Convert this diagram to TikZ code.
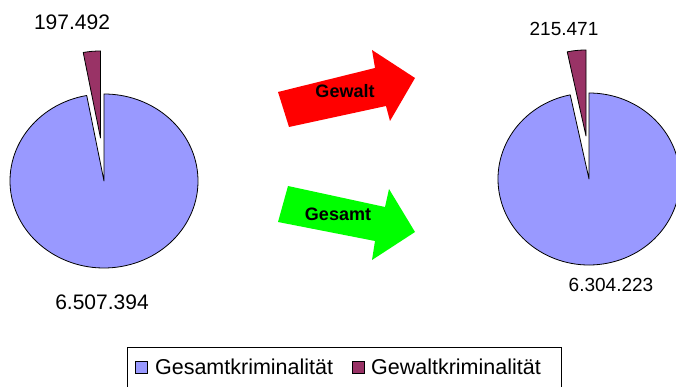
\documentclass[tikz,border=0pt]{standalone}
\usepackage{fontspec}
\setmainfont{Liberation Sans}
\usepackage{xcolor}
\usetikzlibrary{positioning}

\definecolor{gesamtblue}{HTML}{9999FF}
\definecolor{gewaltpurple}{HTML}{993366}

\begin{document}
\begin{tikzpicture}[
    x=1pt, y=1pt,
    slice/.style={draw=black, line width=0.8pt, line join=round},
    value/.style={font=\fontsize{21}{24}\selectfont, inner sep=0pt},
    smallvalue/.style={font=\fontsize{19}{22}\selectfont, inner sep=0pt},
    arrowlabel/.style={font=\bfseries\fontsize{18}{22}\selectfont, inner sep=0pt},
    legendkey/.style={draw=black, fill=#1, minimum size=12pt, inner sep=0pt, line width=0.8pt},
    legendtext/.style={font=\fontsize{21.5}{24}\selectfont, inner sep=0pt, anchor=west}
]
\clip (0,0) rectangle (676,387);

% Left pie
\coordinate (oldcenter) at (104,206);
\filldraw[slice, fill=gesamtblue] (oldcenter) -- ++(100.6:94 and 87)
    arc[start angle=100.6, end angle=450, x radius=94, y radius=87] -- cycle;
\filldraw[slice, fill=gewaltpurple] ([shift={(-3.5,43)}]oldcenter) -- ++(90:94 and 87)
    arc[start angle=90, end angle=100.6, x radius=94, y radius=87] -- cycle;
\node[value] (oldgewalt) at (72,365) {197.492};
\node[value] (oldgesamt) at (102,85) {6.507.394};

% Right pie
\coordinate (newcenter) at (589,208);
\filldraw[slice, fill=gesamtblue] (newcenter) -- ++(101.9:91 and 86)
    arc[start angle=101.9, end angle=450, x radius=91, y radius=86] -- cycle;
\filldraw[slice, fill=gewaltpurple] ([shift={(-3,43)}]newcenter) -- ++(90:91 and 86)
    arc[start angle=90, end angle=101.9, x radius=91, y radius=86] -- cycle;
\node[smallvalue] (newgewalt) at (564,358) {215.471};
\node[smallvalue] (newgesamt) at (611,102) {6.304.223};

% Arrows
\fill[red] (289,260) -- (278,295) -- (375,319) -- (372,337) -- (415,309) -- (390,266) -- (386,281) -- cycle;
\node[arrowlabel] (gewaltlabel) at (345,296) {Gewalt};

\fill[green] (288,201) -- (278,165) -- (375,146) -- (372,127) -- (415,155) -- (389,198) -- (385,180) -- cycle;
\node[arrowlabel] (gesamtlabel) at (338,173) {Gesamt};

% Legend
\draw[line width=0.8pt] (127,-10) rectangle (561,40);
\node[legendkey=gesamtblue] (gesamtkey) at (141.5,20) {};
\node[legendtext, right=7pt of gesamtkey] (gesamtkeytext) {Gesamtkriminalität};
\node[legendkey=gewaltpurple] (gewaltkey) at (358.5,20) {};
\node[legendtext, right=6pt of gewaltkey] (gewaltkeytext) {Gewaltkriminalität};

\end{tikzpicture}
\end{document}
